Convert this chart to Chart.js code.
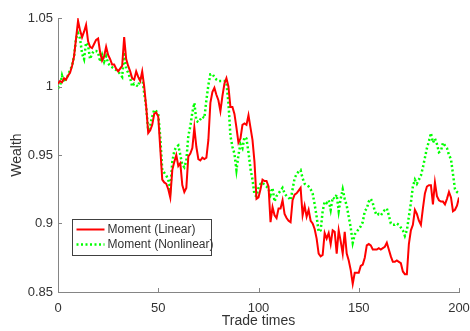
<!DOCTYPE html>
<html>
<head>
<meta charset="utf-8">
<script src="https://cdn.jsdelivr.net/npm/chart.js@4.4.0/dist/chart.umd.min.js"></script>
<style>
  body { margin: 0; background: #fff; }
  #wrap { width: 470px; height: 331px; position: relative; }
</style>
</head>
<body>
<div id="wrap"><canvas id="wealthChart"></canvas></div>
<script>
// values, one per trade time 0..200
var wealthLinear = [
  1.002, 1.004, 1.003, 1.006, 1.005, 1.008, 1.010, 1.015, 1.022, 1.035,
  1.048, 1.041, 1.036, 1.040, 1.045, 1.033, 1.029, 1.028, 1.031, 1.034,
  1.035, 1.025, 1.019, 1.022, 1.029, 1.023, 1.020, 1.016, 1.016, 1.013,
  1.011, 1.013, 1.015, 1.036, 1.020, 1.015, 1.011, 1.006, 1.005, 1.011,
  1.007, 1.004, 1.011, 1.000, 0.985, 0.966, 0.968, 0.972, 0.980, 0.981,
  0.978, 0.955, 0.932, 0.930, 0.929, 0.925, 0.919, 0.939, 0.945, 0.950,
  0.942, 0.944, 0.928, 0.923, 0.926, 0.949, 0.951, 0.955, 0.970, 0.956,
  0.947, 0.946, 0.948, 0.947, 0.948, 0.961, 0.988, 0.996, 0.999, 0.994,
  0.990, 0.982, 0.993, 1.002, 1.006, 1.000, 0.985, 0.985, 0.980, 0.970,
  0.959, 0.962, 0.972, 0.973, 0.972, 0.979, 0.970, 0.961, 0.945, 0.918,
  0.919, 0.925, 0.932, 0.931, 0.931, 0.927, 0.901, 0.912, 0.906, 0.904,
  0.911, 0.911, 0.917, 0.907, 0.904, 0.902, 0.901, 0.917, 0.921, 0.922,
  0.924, 0.926, 0.906, 0.913, 0.905, 0.910, 0.902, 0.900, 0.896, 0.889,
  0.878, 0.876, 0.877, 0.893, 0.889, 0.893, 0.885, 0.895, 0.894, 0.878,
  0.895, 0.887, 0.878, 0.894, 0.878, 0.873, 0.866, 0.856, 0.864, 0.864,
  0.864, 0.869, 0.870, 0.875, 0.884, 0.885, 0.884, 0.881, 0.881, 0.881,
  0.882, 0.881, 0.882, 0.883, 0.886, 0.881, 0.876, 0.872, 0.872, 0.873,
  0.872, 0.871, 0.865, 0.863, 0.863, 0.885, 0.895, 0.899, 0.910, 0.907,
  0.902, 0.899, 0.911, 0.922, 0.927, 0.928, 0.928, 0.914, 0.930, 0.920,
  0.917, 0.916, 0.916, 0.914, 0.918, 0.923, 0.919, 0.909, 0.910, 0.913,
  0.919
];
var wealthNonlinear = [
  0.999, 1.000, 1.008, 1.003, 1.006, 1.008, 1.012, 1.015, 1.022, 1.035,
  1.039, 1.035, 1.024, 1.020, 1.032, 1.030, 1.020, 1.024, 1.026, 1.026,
  1.025, 1.018, 1.023, 1.018, 1.022, 1.017, 1.015, 1.014, 1.013, 1.012,
  1.011, 1.009, 1.007, 1.025, 1.013, 1.010, 1.006, 1.000, 1.002, 1.001,
  1.000, 1.006, 1.007, 0.995, 0.985, 0.968, 0.972, 0.978, 0.983, 0.982,
  0.980, 0.963, 0.939, 0.937, 0.935, 0.932, 0.925, 0.945, 0.953, 0.956,
  0.957, 0.950, 0.943, 0.941, 0.946, 0.964, 0.971, 0.981, 0.988, 0.975,
  0.974, 0.976, 0.978, 0.977, 0.990, 1.001, 1.009, 1.009, 1.007, 1.005,
  1.004, 1.004, 1.004, 1.004, 1.003, 0.988, 0.964, 0.956, 0.951, 0.939,
  0.950, 0.958, 0.955, 0.963, 0.962, 0.952, 0.940, 0.932, 0.921, 0.920,
  0.926, 0.929, 0.930, 0.928, 0.927, 0.925, 0.921, 0.926, 0.916, 0.920,
  0.922, 0.924, 0.926, 0.922, 0.920, 0.919, 0.917, 0.925, 0.933, 0.936,
  0.938, 0.939, 0.933, 0.929, 0.928, 0.927, 0.925, 0.922, 0.914, 0.905,
  0.894, 0.895, 0.909, 0.916, 0.915, 0.917, 0.910, 0.919, 0.918, 0.921,
  0.909, 0.918, 0.925, 0.918, 0.913, 0.905, 0.897, 0.886, 0.892, 0.894,
  0.896, 0.898, 0.901, 0.909, 0.911, 0.916, 0.918, 0.915, 0.909, 0.906,
  0.907, 0.906, 0.908, 0.910, 0.911, 0.906, 0.900, 0.899, 0.899, 0.900,
  0.899, 0.897, 0.895, 0.891, 0.895, 0.905, 0.915, 0.927, 0.932, 0.929,
  0.932, 0.935, 0.941, 0.948, 0.955, 0.960, 0.966, 0.959, 0.962, 0.958,
  0.952, 0.953, 0.959, 0.957, 0.955, 0.950, 0.947, 0.936, 0.925, 0.923,
  0.922
];
var xTicks = [0, 50, 100, 150, 200];
var yTicks = [0.85, 0.9, 0.95, 1, 1.05];
var seriesNames = ['Moment (Linear)', 'Moment (Nonlinear)'];

var axisColor = '#858585';
var textColor = '#333333';
var fontFamily = "'Liberation Sans', Arial, sans-serif";

function toPoints(arr) {
    return arr.map(function (v, i) { return { x: i, y: v }; });
}

// matlab style: ticks inside, axis titles, legend box in the plot
var matlabAxes = {
    id: 'matlabAxes',
    afterDraw: function (chart) {
        var c = chart.ctx;
        var xs = chart.scales.x, ys = chart.scales.y;
        var area = chart.chartArea;
        c.save();
        c.strokeStyle = axisColor;
        c.lineWidth = 1;
        c.beginPath();
        xTicks.forEach(function (t) {
            var px = Math.round(xs.getPixelForValue(t)) + 0.5;
            c.moveTo(px, area.bottom);
            c.lineTo(px, area.bottom - 4);
        });
        yTicks.forEach(function (t) {
            var py = Math.round(ys.getPixelForValue(t)) + 0.5;
            c.moveTo(area.left, py);
            c.lineTo(area.left + 4, py);
        });
        c.stroke();

        // axis titles
        c.fillStyle = textColor;
        c.font = '14px ' + fontFamily;
        c.textAlign = 'center';
        c.textBaseline = 'middle';
        c.fillText('Trade times', (area.left + area.right) / 2, 321);
        c.translate(17, (area.top + area.bottom) / 2);
        c.rotate(-Math.PI / 2);
        c.fillText('Wealth', 0, 0);
        c.restore();

        // legend
        c.save();
        var bx = 72.5, by = 219.5, bw = 139, bh = 36;
        c.fillStyle = '#fff';
        c.fillRect(bx, by, bw, bh);
        c.strokeStyle = '#404040';
        c.lineWidth = 1;
        c.strokeRect(bx, by, bw, bh);
        c.font = '12px ' + fontFamily;
        c.textAlign = 'left';
        c.textBaseline = 'middle';
        chart.data.datasets.forEach(function (ds, i) {
            var ly = by + 10 + i * 15;
            c.strokeStyle = ds.borderColor;
            c.lineWidth = ds.borderWidth;
            c.setLineDash(ds.borderDash || []);
            c.beginPath();
            c.moveTo(bx + 4, ly);
            c.lineTo(bx + 32, ly);
            c.stroke();
            c.setLineDash([]);
            c.fillStyle = textColor;
            c.fillText(ds.label, bx + 35, ly);
        });
        c.restore();
    }
};

var ctx = document.getElementById('wealthChart').getContext('2d');
var wealthChart = new Chart(ctx, {
    type: 'line',
    data: {
        datasets: [{
            label: seriesNames[0],
            data: toPoints(wealthLinear),
            borderColor: '#ff0000',
            borderWidth: 2,
            pointRadius: 0,
            tension: 0,
            fill: false
        },
        {
            label: seriesNames[1],
            data: toPoints(wealthNonlinear),
            borderColor: '#00ff00',
            borderWidth: 2.5,
            borderDash: [2, 2.5],
            pointRadius: 0,
            tension: 0,
            fill: false
        }]
    },
    options: {
        responsive: true,
        maintainAspectRatio: false,
        animation: false,
        layout: { padding: { top: 18, right: 11, left: 0, bottom: 0 } },
        plugins: {
            legend: { display: false },
            tooltip: { enabled: false }
        },
        scales: {
            x: {
                type: 'linear',
                min: 0,
                max: 200,
                afterBuildTicks: function (scale) {
                    scale.ticks = xTicks.map(function (v) { return { value: v }; });
                },
                afterFit: function (scale) {
                    scale.height = 39;
                    scale.paddingLeft = 0;
                    scale.paddingRight = 0;
                },
                grid: { display: false, drawTicks: false },
                border: { display: true, color: axisColor, width: 1 },
                ticks: {
                    padding: 9,
                    color: textColor,
                    font: { family: fontFamily, size: 13 },
                    maxRotation: 0,
                    callback: function (v) { return String(v); }
                }
            },
            y: {
                min: 0.85,
                max: 1.05,
                afterBuildTicks: function (scale) {
                    scale.ticks = yTicks.map(function (v) { return { value: v }; });
                },
                afterFit: function (scale) {
                    scale.width = 58;
                    scale.paddingTop = 0;
                    scale.paddingBottom = 0;
                },
                grid: { display: false, drawTicks: false },
                border: { display: true, color: axisColor, width: 1 },
                ticks: {
                    padding: 5,
                    color: textColor,
                    font: { family: fontFamily, size: 13 },
                    callback: function (v) { return String(Number(v.toFixed(2))); }
                }
            }
        }
    },
    plugins: [matlabAxes]
});
</script>
</body>
</html>
